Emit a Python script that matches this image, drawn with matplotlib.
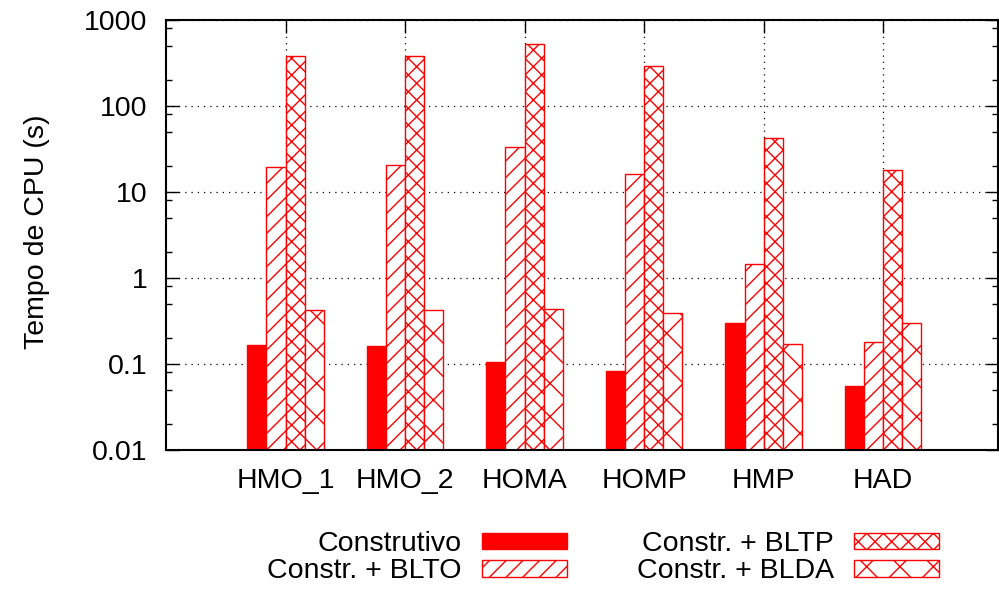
import numpy as np
import matplotlib.pyplot as plt
from matplotlib.ticker import LogLocator, NullFormatter

plt.rcParams['font.family'] = ['Liberation Sans', 'DejaVu Sans']
plt.rcParams['hatch.linewidth'] = 1.0

# DATA
categories = ['HMO_1', 'HMO_2', 'HOMA', 'HOMP', 'HMP', 'HAD']
construtivo = [0.166, 0.162, 0.105, 0.083, 0.297, 0.055]
blto = [19.5, 20.5, 33.0, 16.0, 1.44, 0.18]
bltp = [383, 385, 525, 292, 43.0, 18.0]
blda = [0.42, 0.42, 0.43, 0.39, 0.17, 0.297]

labels = ['Construtivo', 'Constr. + BLTO', 'Constr. + BLTP', 'Constr. + BLDA']
values = [construtivo, blto, bltp, blda]
hatches = ['', '//', 'xx', 'x']

FS = 20.5

# FIGURE
fig = plt.figure(figsize=(9.99, 5.89), dpi=100)
ax = fig.add_axes([166/999, 139/589, 832/999, 430/589])

x = np.arange(1, len(categories) + 1)
w = 0.16
offsets = [-1.5*w, -0.5*w, 0.5*w, 1.5*w]

bars = []
for label, vals, hatch, off in zip(labels, values, hatches, offsets):
    if hatch == '':
        b = ax.bar(x + off, vals, w, bottom=0.001, color='red', edgecolor='red',
                   linewidth=1, label=label, zorder=3)
    else:
        b = ax.bar(x + off, vals, w, bottom=0.001, facecolor='white', edgecolor='red',
                   hatch=hatch, linewidth=1, label=label, zorder=3)
    bars.append(b)

ax.set_yscale('log')
ax.set_ylim(0.01, 1000)
ax.set_xlim(0, 6.96)

ax.set_yticks([0.01, 0.1, 1, 10, 100, 1000])
ax.set_yticklabels(['0.01', '0.1', '1', '10', '100', '1000'])
ax.yaxis.set_minor_locator(LogLocator(base=10, subs=(2, 5, 8), numticks=10))
ax.yaxis.set_minor_formatter(NullFormatter())
ax.set_xticks(x)
ax.set_xticklabels(categories)

ax.tick_params(axis='both', which='major', direction='in', length=9, width=1,
               top=True, right=True, labelsize=FS)
ax.tick_params(axis='y', which='minor', direction='in', length=4.5, width=1, right=True)
ax.tick_params(axis='y', which='major', pad=13.5)
ax.tick_params(axis='x', which='major', pad=13)

ax.grid(True, which='major', axis='both', linestyle=(0, (1, 4)), color='black',
        linewidth=0.9, zorder=0)
ax.set_axisbelow(True)
for s in ax.spines.values():
    s.set_linewidth(1.5)
    s.set_zorder(5)

ax.set_ylabel('Tempo de CPU (s)', fontsize=FS)
ax.yaxis.set_label_coords(-0.14, 0.507)

# legend: two right-aligned columns, text before the swatch
leg_kw = dict(markerfirst=False, frameon=False, fontsize=FS,
              handlelength=3.0, handleheight=0.53, handletextpad=0.7,
              labelspacing=0.05, borderpad=0, borderaxespad=0, loc='upper right')
leg1 = fig.legend(handles=bars[:2], labels=labels[:2],
                  bbox_to_anchor=(567/999, 1 - 531/589), **leg_kw)
leg2 = fig.legend(handles=bars[2:], labels=labels[2:],
                  bbox_to_anchor=(939/999, 1 - 531/589), **leg_kw)

fig.savefig('out.png', dpi=100)
